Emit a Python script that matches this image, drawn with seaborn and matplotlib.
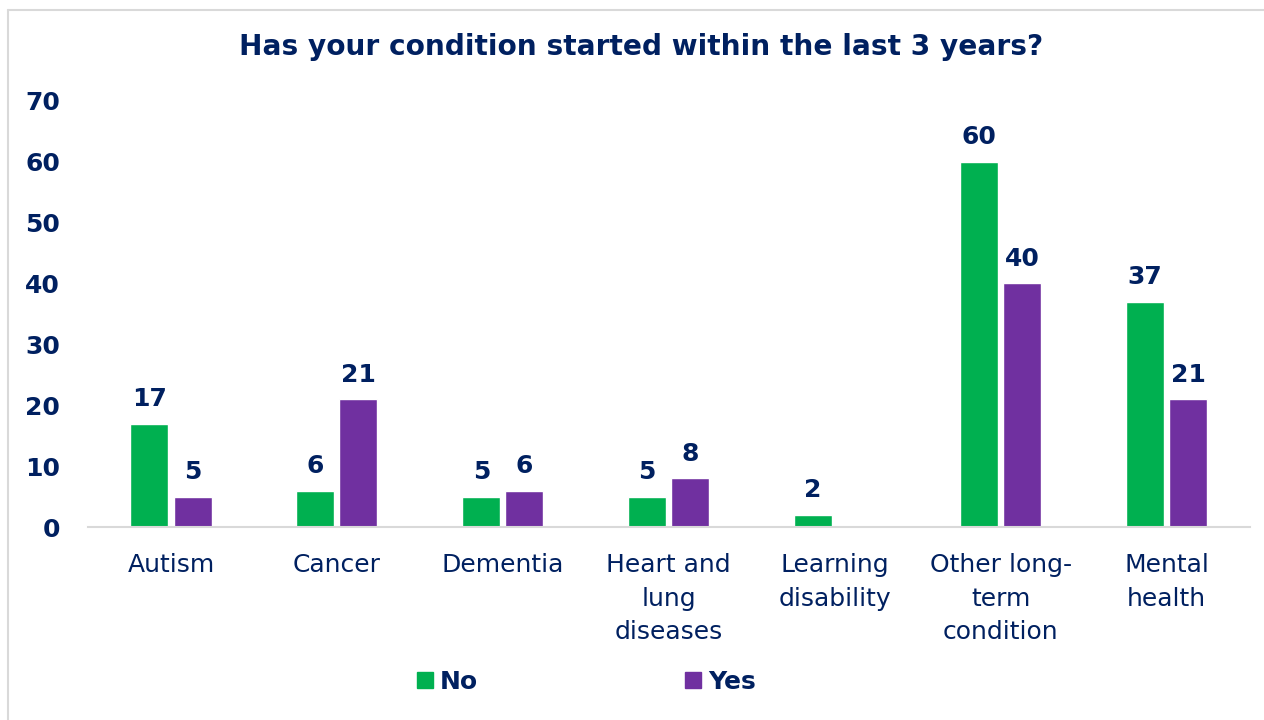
import pandas as pd
import matplotlib.pyplot as plt
import seaborn as sns
from matplotlib.lines import Line2D

categories = ["Autism", "Cancer", "Dementia", "Heart and\nlung\ndiseases",
              "Learning\ndisability", "Other long-\nterm\ncondition", "Mental\nhealth"]
no_vals = [17, 6, 5, 5, 2, 60, 37]
yes_vals = [5, 21, 6, 8, 0, 40, 21]
series = ["No", "Yes"]

navy = "#002060"
colors = {"No": "#00B050", "Yes": "#7030A0"}

df = pd.DataFrame({
    "Condition": categories * 2,
    "Answer": ["No"] * len(categories) + ["Yes"] * len(categories),
    "Count": no_vals + yes_vals,
})

sns.set_style("white")
plt.rcParams['font.family'] = ['DejaVu Sans']

fig = plt.figure(figsize=(12.64, 7.2), dpi=100)
ax = fig.add_axes([0.0696, 0.268, 0.919, 0.592])

sns.barplot(data=df, x="Condition", y="Count", hue="Answer", order=categories,
            hue_order=series, palette=colors, width=0.52, gap=0.12,
            saturation=1, ax=ax, legend=False)

for cont in ax.containers:
    labels = [f"{v:.0f}" if v > 0 else "" for v in cont.datavalues]
    ax.bar_label(cont, labels=labels, padding=9, fontsize=18,
                 fontweight="bold", color=navy)

ax.set_ylim(0, 70)
ax.set_xlim(-0.5, 6.5)
ax.set_yticks(range(0, 71, 10))
ax.set_xlabel("")
ax.set_ylabel("")
for s in ["top", "right", "left"]:
    ax.spines[s].set_visible(False)
ax.spines["bottom"].set_color("#D9D9D9")
ax.spines["bottom"].set_linewidth(1.5)
ax.tick_params(axis="y", length=0, pad=20, labelsize=18, labelcolor=navy)
ax.tick_params(axis="x", length=0, pad=19, labelsize=18, labelcolor=navy)
for t in ax.get_yticklabels():
    t.set_fontweight("bold")
for t in ax.get_xticklabels():
    t.set_linespacing(1.5)

fig.text(0.507, 0.935, "Has your condition started within the last 3 years?",
         ha="center", va="center", fontsize=20.2, fontweight="bold", color=navy)

handles = [Line2D([0], [0], marker="s", linestyle="", markersize=11,
                  color=colors[s]) for s in series]
leg = fig.legend(handles, series, loc="center", bbox_to_anchor=(0.462, 0.053),
                 ncol=2, frameon=False, handletextpad=0.1, columnspacing=8.1,
                 handlelength=1.0, prop={"size": 18, "weight": "bold"})
for t in leg.get_texts():
    t.set_color(navy)

# light frame around the chart area
fig.add_artist(Line2D([0.0063, 0.0063], [0.0, 0.986], color="#D9D9D9", lw=1.5))
fig.add_artist(Line2D([0.0063, 1.0], [0.986, 0.986], color="#D9D9D9", lw=1.5))

fig.savefig("out.png", dpi=100)
